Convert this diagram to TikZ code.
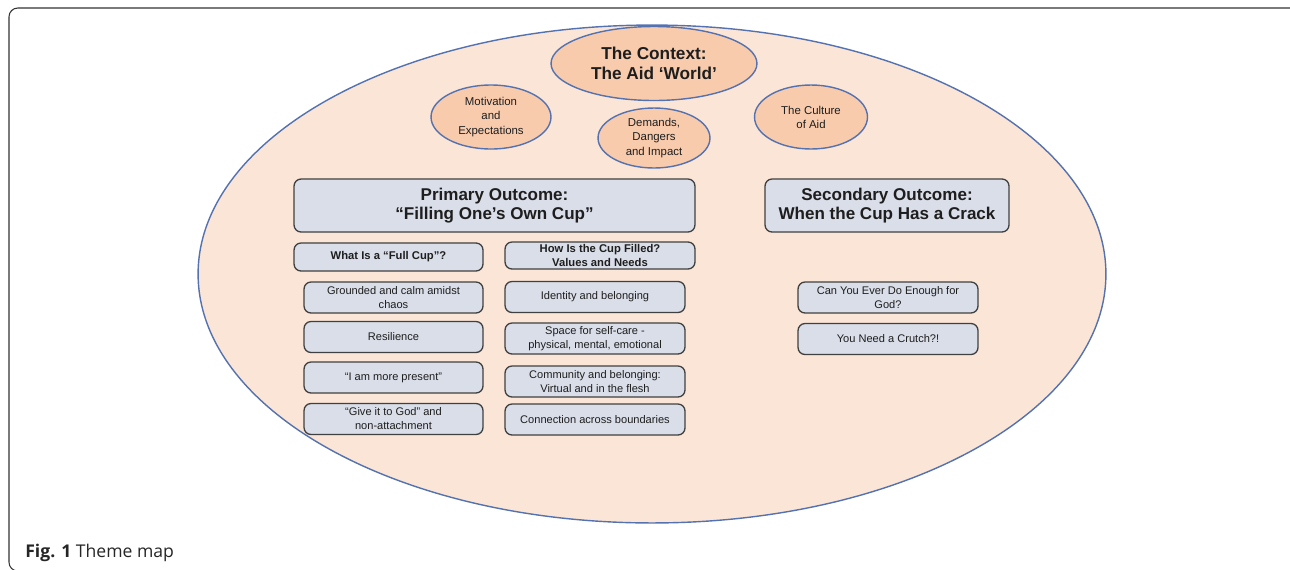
\documentclass[tikz,border=0pt]{standalone}
\usepackage{fontspec}
\setmainfont{Liberation Sans}
\newfontfamily\captionfont{Open Sans}
\usepackage{xcolor}
\usepackage{tikz}
\usetikzlibrary{shapes.geometric, positioning}
\definecolor{peach}{RGB}{251,229,214}
\definecolor{apricot}{RGB}{248,203,173}
\definecolor{steel}{RGB}{84,114,176}
\definecolor{mist}{RGB}{217,222,232}
\definecolor{ink}{RGB}{30,30,30}
\tikzset{
    world/.style={ellipse, draw=steel, line width=0.8pt, fill=peach, inner sep=0pt, minimum width=18.16cm, minimum height=9.96cm},
    theme/.style={ellipse, draw=steel, line width=0.8pt, fill=apricot, inner sep=0pt, text centered, align=center, text=ink},
    outcome/.style={rectangle, rounded corners=4pt, draw=black!75, line width=0.75pt, fill=mist, inner sep=0pt, text centered, align=center, text=ink},
    headline/.style={outcome, font=\fontsize{9.7}{10.6}\selectfont\bfseries},
    subhead/.style={outcome, font=\fontsize{6.4}{8}\selectfont\bfseries},
    item/.style={outcome, font=\fontsize{6.3}{8}\selectfont, minimum height=0.62cm}
}

\begin{document}
\begin{tikzpicture}[
    x=0.02cm, y=-0.02cm,
    small/.style={theme, font=\fontsize{6.5}{8}\selectfont},
    frame/.style={draw=black!80, line width=0.6pt, rounded corners=5pt}
]
    \useasboundingbox (0,0) rectangle (1290,569);
    \draw[frame] (9,8) rectangle (1302,571);

    % The aid world
    \node[world] (world) at (652,274) {};
    \node[theme, minimum width=4.12cm, minimum height=1.48cm, font=\fontsize{9.8}{11.3}\selectfont\bfseries] (context) at (654,63.5) {The Context:\\ The Aid ‘World’};
    \node[small, minimum width=2.4cm, minimum height=1.28cm] (motivation) at (491,117) {Motivation\\ and\\ Expectations};
    \node[small, minimum width=2.24cm, minimum height=1.2cm] (demands) at (654,138) {Demands,\\ Dangers\\ and Impact};
    \node[small, minimum width=2.26cm, minimum height=1.28cm] (culture) at (811,117) {The Culture\\ of Aid};

    % Outcomes
    \node[headline, minimum width=8.02cm, minimum height=1.06cm] (primary) at (494.5,205.5) {Primary Outcome:\\ “Filling One’s Own Cup”};
    \node[headline, minimum width=4.88cm, minimum height=1.06cm] (secondary) at (887,205.5) {Secondary Outcome:\\ When the Cup Has a Crack};

    % Primary outcome, left column
    \node[subhead, minimum width=3.78cm, minimum height=0.56cm] (fullcup) at (388.5,257) {What Is a “Full Cup”?};
    \node[item, minimum width=3.58cm] (grounded) at (393.5,297.5) {Grounded and calm amidst\\ chaos};
    \node[item, minimum width=3.58cm] (resilience) at (393.5,337) {Resilience};
    \node[item, minimum width=3.58cm] (present) at (393.5,377.5) {“I am more present”};
    \node[item, minimum width=3.58cm] (givegod) at (393.5,419) {“Give it to God” and\\ non-attachment};

    % Primary outcome, right column
    \node[subhead, minimum width=3.8cm, minimum height=0.54cm] (filled) at (600,255.5) {How Is the Cup Filled?\\ Values and Needs};
    \node[item, minimum width=3.6cm] (identity) at (595,297) {Identity and belonging};
    \node[item, minimum width=3.6cm] (selfcare) at (595,338.5) {Space for self-care -\\ physical, mental, emotional};
    \node[item, minimum width=3.6cm] (community) at (595,381.5) {Community and belonging:\\ Virtual and in the flesh};
    \node[item, minimum width=3.6cm] (connection) at (595,419.5) {Connection across boundaries};

    % Secondary outcome
    \node[item, minimum width=3.6cm] (enough) at (888,297.5) {Can You Ever Do Enough for\\ God?};
    \node[item, minimum width=3.6cm] (crutch) at (888,339) {You Need a Crutch?!};

    \node[anchor=base west, text=black!85, inner sep=0pt, font=\captionfont\fontsize{10}{12}\selectfont] (caption) at (25,557) {\textbf{Fig. 1} Theme map};
\end{tikzpicture}
\end{document}
